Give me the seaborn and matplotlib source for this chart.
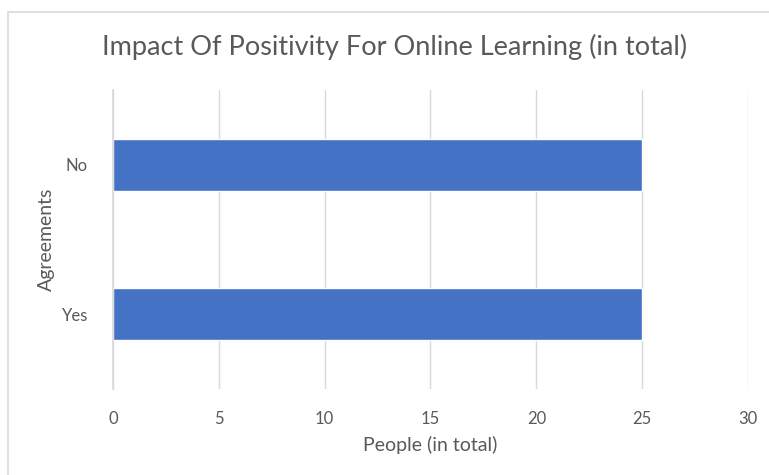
import matplotlib
matplotlib.use("Agg")
import matplotlib.pyplot as plt
import seaborn as sns
import pandas as pd
from matplotlib.patches import Rectangle

# Survey responses
agreements = ["No", "Yes"]
people = [25, 25]
x_ticks = [0, 5, 10, 15, 20, 25, 30]

title = "Impact Of Positivity For Online Learning (in total)"
x_label = "People (in total)"
y_label = "Agreements"

bar_color = "#4472C4"
text_color = "#595959"
grid_color = "#D9D9D9"

sns.set_theme(style="white")
plt.rcParams["font.family"] = ["Lato", "DejaVu Sans"]

df = pd.DataFrame({"Agreements": agreements, "People": people})

fig = plt.figure(figsize=(7.69, 4.75), dpi=100)
fig.patch.set_facecolor("white")

# chart frame
fig.add_artist(Rectangle((8 / 769, -0.01), 1.0, 1 - 12 / 475 + 0.01,
                         transform=fig.transFigure, fill=False,
                         edgecolor=grid_color, linewidth=1.2))

ax = fig.add_axes([113 / 769, (475 - 389) / 475, (748 - 113) / 769, (389 - 90) / 475])
sns.barplot(data=df, x="People", y="Agreements", order=agreements,
            color=bar_color, saturation=1, width=0.35, orient="h", ax=ax)

ax.set_xlim(0, 30)
ax.set_xticks(x_ticks)
ax.set_xticklabels([str(t) for t in x_ticks])
ax.xaxis.grid(True, color=grid_color, linewidth=1)
ax.set_axisbelow(True)
for s in ax.spines.values():
    s.set_visible(False)
ax.spines["left"].set_visible(True)
ax.spines["left"].set_color(grid_color)

ax.tick_params(axis="x", length=0, pad=16, labelsize=12, labelcolor=text_color)
ax.tick_params(axis="y", length=0, pad=18, labelsize=12, labelcolor=text_color)

ax.set_xlabel(x_label, fontsize=14, color=text_color, labelpad=6)
ax.set_ylabel(y_label, fontsize=14, color=text_color, labelpad=5)

fig.text(395 / 769, 1 - 47 / 475, title, ha="center", va="center",
         fontsize=19.5, color=text_color)

fig.savefig("out.png", dpi=100, facecolor="white")
